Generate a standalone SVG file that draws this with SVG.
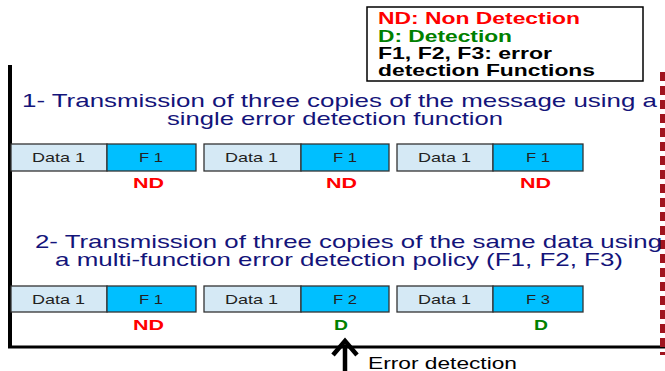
<svg xmlns="http://www.w3.org/2000/svg" width="665" height="371" viewBox="0 0 665 371">
<style>
.title{font-family:"Liberation Sans",Arial,sans-serif;font-size:19px;fill:#14147a}
.leg{font-family:"Liberation Sans",Arial,sans-serif;font-size:16.5px;font-weight:bold}
.box{font-family:"Liberation Sans",Arial,sans-serif;font-size:13px;fill:#222}
.data{fill:#d5e9f5;stroke:#333;stroke-width:1.3}
.fn{fill:#00bfff;stroke:#333;stroke-width:1.3}
.nd{font-family:"Liberation Sans",Arial,sans-serif;font-size:14.5px;font-weight:bold;fill:#ff0000}
.d{font-family:"Liberation Sans",Arial,sans-serif;font-size:14.5px;font-weight:bold;fill:#008000}
</style>
<rect width="665" height="371" fill="#fff"/>
<g id="frame">
<line x1="10" y1="65" x2="10" y2="348" stroke="#000" stroke-width="4"/>
<line x1="8" y1="347" x2="665" y2="347" stroke="#000" stroke-width="3"/>
<line x1="662.5" y1="72" x2="662.5" y2="355" stroke="#a0141e" stroke-width="5" stroke-dasharray="9,5"/>
</g>
<g id="legend">
<rect x="367" y="7" width="276" height="74" fill="#fff" stroke="#000" stroke-width="1.5"/>
<text class="leg" x="378" y="24" fill="#ff0000" textLength="202" lengthAdjust="spacingAndGlyphs">ND: Non Detection</text>
<text class="leg" x="378" y="42" fill="#008000" textLength="134" lengthAdjust="spacingAndGlyphs">D: Detection</text>
<text class="leg" x="378" y="59" fill="#000" textLength="174" lengthAdjust="spacingAndGlyphs">F1, F2, F3: error</text>
<text class="leg" x="378" y="76" fill="#000" textLength="217" lengthAdjust="spacingAndGlyphs">detection Functions</text>
</g>
<g id="title1">
<text class="title" x="22" y="107" textLength="635" lengthAdjust="spacingAndGlyphs">1- Transmission of three copies of the message using a</text>
<text class="title" x="167" y="125" textLength="336" lengthAdjust="spacingAndGlyphs">single error detection function</text>
</g>
<g id="row1">
<g id="r1m1"><rect class="data" x="11" y="144" width="96" height="27"/><rect class="fn" x="107" y="144" width="89" height="27"/>
<text class="box" x="32" y="162" textLength="53" lengthAdjust="spacingAndGlyphs">Data 1</text><text class="box" x="139" y="162" textLength="24" lengthAdjust="spacingAndGlyphs">F 1</text>
<text class="nd" x="133" y="188" textLength="31" lengthAdjust="spacingAndGlyphs">ND</text></g>
<g id="r1m2"><rect class="data" x="204" y="144" width="97" height="27"/><rect class="fn" x="301" y="144" width="88" height="27"/>
<text class="box" x="225" y="162" textLength="53" lengthAdjust="spacingAndGlyphs">Data 1</text><text class="box" x="333" y="162" textLength="24" lengthAdjust="spacingAndGlyphs">F 1</text>
<text class="nd" x="326" y="188" textLength="31" lengthAdjust="spacingAndGlyphs">ND</text></g>
<g id="r1m3"><rect class="data" x="397" y="144" width="96" height="27"/><rect class="fn" x="493" y="144" width="90" height="27"/>
<text class="box" x="418" y="162" textLength="53" lengthAdjust="spacingAndGlyphs">Data 1</text><text class="box" x="526" y="162" textLength="24" lengthAdjust="spacingAndGlyphs">F 1</text>
<text class="nd" x="520" y="188" textLength="31" lengthAdjust="spacingAndGlyphs">ND</text></g>
</g>
<g id="title2">
<text class="title" x="35" y="248" textLength="627" lengthAdjust="spacingAndGlyphs">2- Transmission of three copies of the same data using</text>
<text class="title" x="55" y="266" textLength="568" lengthAdjust="spacingAndGlyphs">a multi-function error detection policy (F1, F2, F3)</text>
</g>
<g id="row2">
<g id="r2m1"><rect class="data" x="11" y="286" width="96" height="26"/><rect class="fn" x="107" y="286" width="89" height="26"/>
<text class="box" x="32" y="304" textLength="53" lengthAdjust="spacingAndGlyphs">Data 1</text><text class="box" x="139" y="304" textLength="24" lengthAdjust="spacingAndGlyphs">F 1</text>
<text class="nd" x="133" y="330" textLength="31" lengthAdjust="spacingAndGlyphs">ND</text></g>
<g id="r2m2"><rect class="data" x="204" y="286" width="97" height="26"/><rect class="fn" x="301" y="286" width="88" height="26"/>
<text class="box" x="225" y="304" textLength="53" lengthAdjust="spacingAndGlyphs">Data 1</text><text class="box" x="333" y="304" textLength="24" lengthAdjust="spacingAndGlyphs">F 2</text>
<text class="d" x="334" y="330" textLength="14" lengthAdjust="spacingAndGlyphs">D</text></g>
<g id="r2m3"><rect class="data" x="397" y="286" width="96" height="26"/><rect class="fn" x="493" y="286" width="90" height="26"/>
<text class="box" x="418" y="304" textLength="53" lengthAdjust="spacingAndGlyphs">Data 1</text><text class="box" x="526" y="304" textLength="24" lengthAdjust="spacingAndGlyphs">F 3</text>
<text class="d" x="534" y="330" textLength="14" lengthAdjust="spacingAndGlyphs">D</text></g>
</g>
<g id="connectors">
<line x1="345" y1="371" x2="345" y2="345" stroke="#000" stroke-width="4.5"/>
<polyline points="333,355 345,341 357,355" fill="none" stroke="#000" stroke-width="4.5"/>
</g>
<g id="errlabel">
<text x="368" y="369" font-family="Liberation Sans,Arial,sans-serif" font-size="16.5" fill="#000" textLength="149" lengthAdjust="spacingAndGlyphs">Error detection</text>
</g>
</svg>
